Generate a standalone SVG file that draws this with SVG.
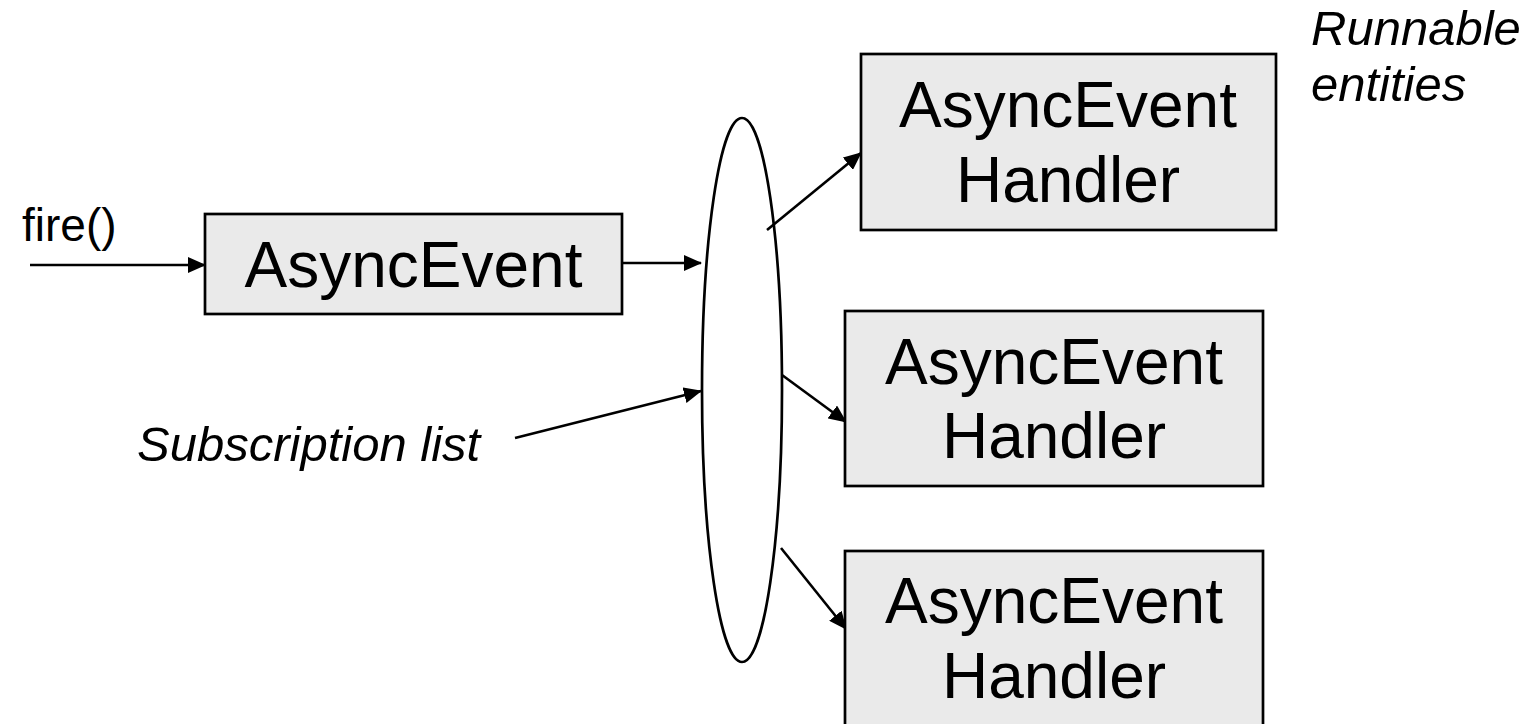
<svg xmlns="http://www.w3.org/2000/svg" width="1526" height="724" viewBox="0 0 1526 724">
<style>
.box{fill:#eaeaea;stroke:#000;stroke-width:2.7}
.big{font-family:"Liberation Sans",Arial,sans-serif;font-size:64px;fill:#000;text-anchor:middle}
.lbl{font-family:"Liberation Sans",Arial,sans-serif;font-size:46px;fill:#000}
.it{font-style:italic;font-size:49px}
.con{stroke:#000;stroke-width:2.6;fill:none}
</style>
<defs>
<marker id="ah" viewBox="0 0 18 16" refX="17" refY="8" markerWidth="18" markerHeight="16" markerUnits="userSpaceOnUse" orient="auto">
<path d="M0,0 L18,8 L0,16 Z" fill="#000"/>
</marker>
</defs>
<rect width="1526" height="724" fill="#fff"/>
<g id="connectors">
<line class="con" x1="30" y1="265" x2="205" y2="265" marker-end="url(#ah)"/>
<line class="con" x1="622" y1="263" x2="701" y2="263" marker-end="url(#ah)"/>
<line class="con" x1="515" y1="438" x2="701" y2="391" marker-end="url(#ah)"/>
<line class="con" x1="767" y1="230" x2="861" y2="153" marker-end="url(#ah)"/>
<line class="con" x1="782" y1="375" x2="846" y2="422" marker-end="url(#ah)"/>
<line class="con" x1="781" y1="548" x2="846" y2="629" marker-end="url(#ah)"/>
</g>
<g id="subscription-list">
<ellipse cx="742" cy="390" rx="40" ry="272" fill="none" stroke="#000" stroke-width="2.7"/>
</g>
<g id="fire-label"><text class="lbl" x="22" y="241">fire()</text></g>
<g id="async-event">
<rect class="box" x="205" y="214" width="417" height="100"/>
<text class="big" x="413.5" y="287">AsyncEvent</text>
</g>
<g id="handler1">
<rect class="box" x="861" y="54" width="415" height="176"/>
<text class="big" x="1068" y="127">AsyncEvent</text>
<text class="big" x="1068" y="202">Handler</text>
</g>
<g id="handler2">
<rect class="box" x="845" y="311" width="418" height="175"/>
<text class="big" x="1054" y="384">AsyncEvent</text>
<text class="big" x="1054" y="458">Handler</text>
</g>
<g id="handler3">
<rect class="box" x="845" y="551" width="418" height="185"/>
<text class="big" x="1054" y="623">AsyncEvent</text>
<text class="big" x="1054" y="698">Handler</text>
</g>
<g id="subscription-label"><text class="lbl it" x="137" y="461">Subscription list</text></g>
<g id="runnable-label">
<text class="lbl it" x="1311" y="45">Runnable</text>
<text class="lbl it" x="1311" y="101">entities</text>
</g>
</svg>
